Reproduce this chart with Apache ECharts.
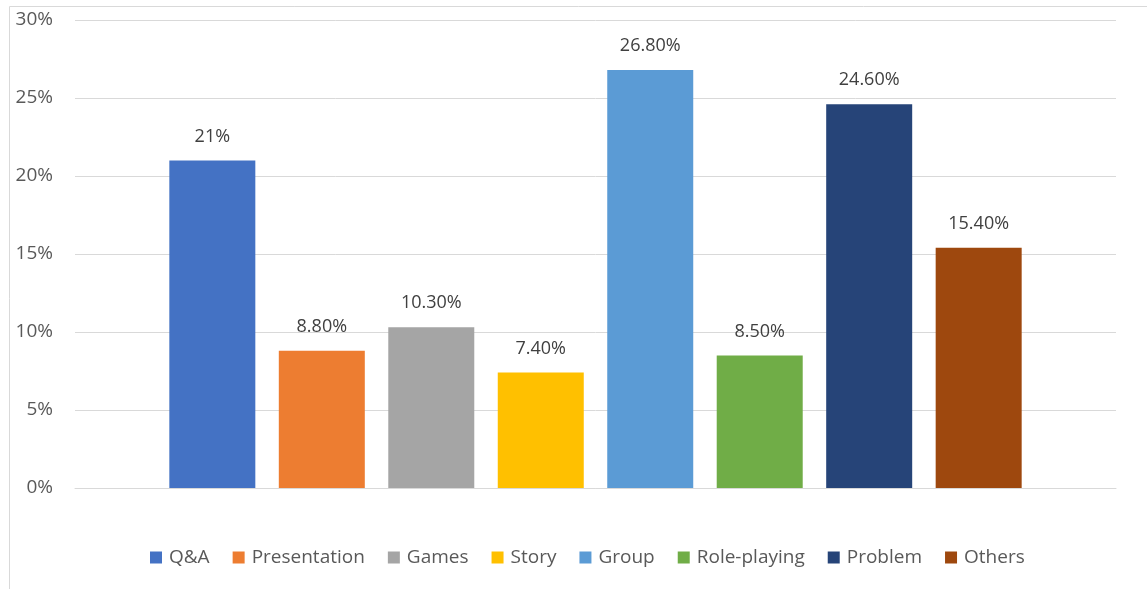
<!DOCTYPE html>
<html><head><meta charset="utf-8">
<script src="https://cdn.jsdelivr.net/npm/echarts@6/dist/echarts.min.js"></script>
<style>html,body{margin:0;padding:0;background:#fff}#c{width:1147px;height:589px}</style>
</head><body><div id="c"></div>
<script>
const categories = ['Q&A','Presentation','Games','Story','Group','Role-playing','Problem','Others'];
const values = [21, 8.8, 10.3, 7.4, 26.8, 8.5, 24.6, 15.4];
const valueLabels = ['21%','8.80%','10.30%','7.40%','26.80%','8.50%','24.60%','15.40%'];
const colors = ['#4472C4','#ED7D31','#A5A5A5','#FFC000','#5B9BD5','#70AD47','#264478','#9E480E'];
const yTicks = [0,5,10,15,20,25,30];

const font = '"Open Sans", "Noto Sans", sans-serif';
const chart = echarts.init(document.getElementById('c'), null, {renderer:'canvas'});
chart.setOption({
  animation:false,
  graphic:[{type:'rect', shape:{x:9.5,y:6.5,width:1300,height:700}, style:{fill:'none', stroke:'#d9d9d9', lineWidth:1}, silent:true, z:-10}],
  grid:{left:75, right:31, top:20, bottom:101, containLabel:false},
  legend:{bottom:17, left:145, itemWidth:12, itemHeight:12, itemGap:23, icon:'rect',
    textStyle:{fontFamily:font, fontSize:19, color:'#595959', padding:[0,0,0,2]},
    data:categories},
  xAxis:{type:'category', data:[''], axisTick:{show:false}, axisLabel:{show:false},
    axisLine:{show:true, lineStyle:{color:'#d9d9d9', width:1}}},
  yAxis:{type:'value', min:yTicks[0], max:yTicks[yTicks.length-1], interval:5,
    axisLine:{show:false}, axisTick:{show:false},
    splitLine:{lineStyle:{color:'#d9d9d9', width:1}},
    axisLabel:{margin:22, fontFamily:font, fontSize:19, color:'#595959', formatter: v => v + '%'}},
  series: categories.map((name,i)=>({
    name, type:'bar', data:[values[i]], barWidth:86, barGap:'27.3%',
    itemStyle:{color:colors[i]},
    label:{show:true, position:'top', distance:15, fontFamily:font, fontSize:18, color:'#404040',
      formatter: ()=>valueLabels[i]}
  }))
});
</script></body></html>
